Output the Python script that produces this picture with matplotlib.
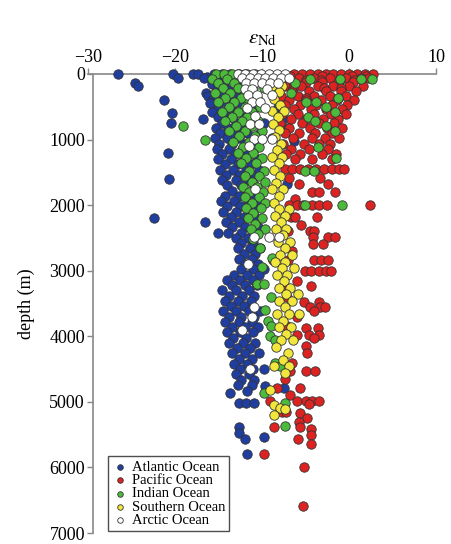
import matplotlib
matplotlib.use("Agg")
import matplotlib.pyplot as plt

plt.rcParams['font.family'] = 'Liberation Serif'
plt.rcParams['mathtext.fontset'] = 'stix'

# eps_Nd values, grouped by depth (m)
atlantic = {
    0: [-26.6, -20.2, -17.9, -17.3, -15.5, -14.6, -13.7, -12.8, -11.9],
    40: [-16.3, -12.2, -10.6],
    60: [-19.7, -16.7], 80: [-15.0, -14.1, -13.2], 130: [-24.6],
    160: [-15.8, -14.4, -13.0, -11.6], 190: [-24.3], 250: [-15.2, -13.9, -12.5],
    290: [-16.4], 330: [-16.2, -14.7, -13.3, -11.2], 390: [-21.3, -15.8],
    420: [-15.5, -14.1, -12.7], 440: [-16.0], 500: [-15.0, -13.6, -10.8, -8.2],
    580: [-15.7, -14.3, -12.9, -11.5], 590: [-20.3], 660: [-15.1, -13.5, -12.1],
    680: [-16.8, -7.6], 740: [-14.6, -13.0, -11.0, -9.8], 745: [-20.5],
    820: [-15.3, -13.9, -12.4, -7.0], 900: [-14.8, -13.3, -11.7, -10.2],
    980: [-15.4, -14.0, -12.6, -8.9], 1025: [-6.3],
    1060: [-14.9, -13.4, -11.9, -10.5], 1140: [-15.2, -13.8, -12.3, -10.9],
    1200: [-20.8], 1220: [-14.6, -13.1, -11.6], 1300: [-15.0, -13.6, -12.1, -10.6],
    1380: [-14.3, -12.8, -11.3], 1460: [-14.8, -13.3, -11.8, -10.4],
    1540: [-14.1, -12.6, -11.1], 1600: [-20.7], 1620: [-14.6, -13.0, -11.5],
    1680: [-7.1], 1700: [-14.0, -12.4, -10.9], 1780: [-13.5, -12.0],
    1860: [-14.2, -12.7, -11.2], 1940: [-14.7, -13.2, -11.6, -10.2],
    2020: [-14.0, -12.5, -11.0], 2100: [-14.5, -13.0, -11.4],
    2180: [-13.6, -12.1, -10.8], 2200: [-22.4], 2250: [-16.5],
    2260: [-14.1, -12.6], 2340: [-13.4, -11.9, -10.5], 2420: [-13.9, -12.4],
    2430: [-15.0], 2500: [-13.0, -11.6], 2580: [-12.4, -11.0],
    2660: [-12.8, -11.4, -10.2], 2740: [-12.1, -10.8], 2820: [-12.6, -11.2],
    2900: [-11.9, -10.5], 2980: [-12.4, -11.0, -9.8], 3060: [-13.2, -11.7, -10.3],
    3140: [-14.0, -12.5, -11.0], 3220: [-13.5, -12.0, -10.6],
    3300: [-14.6, -13.0, -11.5], 3380: [-13.8, -12.3, -10.9],
    3460: [-14.3, -12.8, -11.3], 3540: [-13.6, -12.1],
    3620: [-14.5, -13.0, -11.5, -10.2], 3700: [-13.8, -12.4, -10.9],
    3780: [-14.2, -12.7, -11.2], 3860: [-13.5, -12.0, -10.5],
    3940: [-14.0, -12.5, -11.0], 4020: [-13.3, -11.8], 4100: [-13.8, -12.2, -10.8],
    4180: [-12.9, -11.4], 4260: [-13.4, -11.9, -10.4], 4340: [-12.7, -11.2],
    4420: [-13.2, -11.7], 4500: [-12.5, -11.0, -9.8], 4580: [-13.0, -11.5],
    4660: [-12.4, -10.9], 4740: [-12.8, -11.2], 4760: [-9.6], 4790: [-7.5],
    4830: [-11.7], 4860: [-13.7], 5020: [-12.7, -11.8, -10.9],
    5390: [-12.6], 5480: [-12.6], 5530: [-9.8], 5560: [-11.9], 5790: [-11.7],
}

pacific = {
    0: [-6.3, -5.4, -4.5, -3.6, -2.7, -1.8, -0.9, 0.0, 0.9, 1.8, 2.8],
    30: [-6.8, -3.1, 0.4, 1.9],
    60: [-5.8, -4.0, -2.2, -0.4, 1.4, 2.3], 90: [-7.0, -4.9, -3.2, -1.0, 0.6],
    120: [-6.8, -4.9, -3.1, -1.3, 0.5],
    190: [-7.3, -5.5, -3.6, -1.8, 0.0, 1.6], 220: [-6.4, -2.9, -0.9],
    260: [-6.5, -4.6, -2.7, -0.9, 0.8],
    330: [-7.8, -5.9, -4.0, -2.2, -0.3], 360: [-5.0, -1.3],
    400: [-6.9, -5.0, -3.2, -1.4, 0.6],
    470: [-7.4, -5.6, -3.8, -2.0, -0.2], 540: [-6.3, -4.4, -2.6, -0.8],
    610: [-7.7, -5.9, -4.0, -2.1, -0.3], 680: [-6.7, -4.9, -3.0, -1.3],
    750: [-7.9, -5.4, -3.5, -1.7], 820: [-6.9, -4.5, -2.5, -0.8],
    900: [-7.4, -5.8, -3.9, -2.0], 980: [-6.4, -4.3, -2.8, -1.2],
    1060: [-7.6, -5.2, -3.4, -2.2], 1140: [-6.7, -4.6, -2.4],
    1220: [-7.2, -5.6, -3.1, -1.5], 1300: [-6.2, -4.2, -2.0],
    1450: [-7.4, -6.5, -5.6, -4.7, -3.8, -2.9, -2.0, -1.1, -0.6],
    1580: [-6.9, -3.3], 1680: [-5.8, -2.4], 1800: [-4.2, -3.5, -1.6],
    1900: [-6.2], 2000: [-6.9, -6.0, -5.3, -4.3, -3.4, -2.5, 2.4],
    2180: [-6.7, -6.2, -3.7], 2300: [-5.5], 2400: [-7.0, -4.5, -4.0],
    2490: [-4.1, -2.4, -1.6], 2590: [-4.1, -3.0], 2700: [-6.5],
    2830: [-8.7, -7.0, -4.0, -3.2, -2.4], 3000: [-5.1, -4.4, -3.5, -2.7, -2.1],
    3150: [-6.0], 3230: [-4.4], 3270: [-7.1], 3400: [-7.1], 3470: [-5.2, -3.5],
    3550: [-4.5, -3.3, -2.8], 3620: [-4.0], 3700: [-6.0], 3850: [-7.1],
    3880: [-4.9, -3.6], 3980: [-6.0, -4.6, -3.4], 4030: [-4.0], 4150: [-5.0],
    4260: [-4.8], 4400: [-6.5], 4530: [-6.8, -5.0, -3.9], 4650: [-7.3],
    4790: [-5.6, -8.3], 4900: [-6.8], 4990: [-9.1, -6.0, -5.0, -4.2, -3.5],
    5040: [-4.6], 5150: [-7.7, -7.2], 5170: [-5.6], 5240: [-4.8], 5300: [-5.8],
    5380: [-8.6, -5.6], 5420: [-4.4], 5500: [-4.4], 5570: [-5.9], 5650: [-4.4],
    5790: [-9.8], 5990: [-5.2], 6590: [-5.3],
}

indian = {
    0: [-15.3, -14.4, -13.5, -12.6, -11.7, -10.8],
    70: [-15.8, -14.0, -12.2, -10.4, -4.5, -1.0, 1.4, 2.6],
    140: [-15.0, -13.2, -11.4, -6.2], 210: [-14.5, -12.8, -11.0, -9.8],
    290: [-15.4, -13.7, -11.9, -6.7], 360: [-14.2, -12.4, -10.6, -1.3],
    430: [-15.0, -13.2, -11.5, -5.0, -3.8], 500: [-13.8, -12.0, -10.2, -2.7],
    580: [-14.6, -12.8, -11.1, -1.6], 650: [-13.4, -11.7, -4.7],
    720: [-14.2, -12.3, -10.5, -3.9], 800: [-19.1, -13.0, -11.2, -2.7],
    870: [-13.8, -12.0, -10.0, -1.6], 950: [-12.7, -10.8],
    1000: [-16.5], 1030: [-13.3, -11.5], 1120: [-12.2, -10.4, -3.6],
    1200: [-12.8, -11.0], 1280: [-11.8, -10.0, -1.5], 1360: [-12.4, -10.7],
    1480: [-11.5, -9.8, -5.1, -4.0], 1560: [-12.0, -10.3], 1640: [-11.2, -9.6],
    1720: [-12.2, -10.6], 1800: [-11.5, -9.9], 1880: [-12.0, -10.4],
    1960: [-11.2, -9.7], 2000: [-5.1, -0.8], 2040: [-11.8, -10.1],
    2120: [-11.0], 2200: [-11.6, -10.0], 2280: [-10.8], 2360: [-11.3, -9.6],
    2440: [-10.5], 2520: [-11.0], 2650: [-10.2], 2800: [-8.8], 2950: [-10.0],
    3200: [-10.6, -9.8], 3400: [-9.0], 3600: [-9.6], 3760: [-9.3],
    3850: [-9.0], 4000: [-9.1], 4060: [-8.5], 4410: [-8.5], 4460: [-7.9],
    4860: [-9.8], 5020: [-7.3], 5370: [-7.3],
}

southern = {
    100: [-8.3], 180: [-8.8, -7.7], 280: [-8.1], 380: [-8.6], 470: [-7.9],
    560: [-8.9, -7.5], 660: [-8.2], 760: [-8.7], 860: [-8.0], 960: [-8.5],
    1060: [-7.8], 1160: [-8.3], 1260: [-8.8, -7.7], 1360: [-8.1], 1460: [-8.6],
    1560: [-7.9], 1660: [-8.4], 1760: [-7.6, -8.9], 1860: [-8.1], 1960: [-8.6],
    2060: [-8.0, -6.9], 2160: [-8.5, -7.3], 2260: [-7.8], 2360: [-8.4, -7.2],
    2460: [-7.6], 2560: [-8.2, -6.8], 2660: [-7.4], 2760: [-7.9, -6.6],
    2860: [-8.5, -7.3], 2960: [-7.7, -6.3], 3060: [-8.3, -7.1], 3160: [-7.5],
    3260: [-8.1, -6.8], 3360: [-7.2, -5.9], 3460: [-8.0, -6.6], 3560: [-7.4],
    3660: [-8.3, -6.9, -5.8], 3760: [-7.6], 3860: [-8.1, -6.7], 3960: [-7.2],
    4060: [-7.8, -6.4], 4160: [-8.4], 4260: [-7.0], 4360: [-7.6],
    4460: [-8.6, -6.9], 4560: [-7.4], 4820: [-9.1], 5050: [-8.6],
    5090: [-7.9], 5110: [-7.3], 5200: [-8.6],
}

arctic = {
    0: [-12.8, -11.9, -11.0, -10.1, -9.2, -8.3, -7.4],
    60: [-12.3, -11.4, -10.5, -9.6, -8.7, -7.8, -6.9],
    140: [-11.8, -10.9, -10.0, -9.1, -8.2], 230: [-12.0, -11.1, -9.4],
    320: [-11.6, -10.6, -8.9], 420: [-11.2, -10.2], 520: [-11.7, -9.7],
    640: [-10.8], 760: [-11.4, -10.4], 990: [-10.9, -10.0, -8.8],
    1100: [-11.5], 1750: [-10.8], 2480: [-10.9, -9.2, -8.0], 2900: [-11.6],
    3550: [-10.9], 3700: [-11.2], 3900: [-12.3], 4500: [-11.4],
}

series = [
    ('Atlantic Ocean', atlantic, '#1f3ea0'),
    ('Pacific Ocean', pacific, '#dd2222'),
    ('Indian Ocean', indian, '#4cbb3c'),
    ('Southern Ocean', southern, '#f0e63c'),
    ('Arctic Ocean', arctic, '#ffffff'),
]

fig = plt.figure(figsize=(4.51, 5.44), dpi=100)
ax = fig.add_axes([88 / 451, 11 / 544, 348 / 451, 459 / 544])

for i, (name, rows, color) in enumerate(series):
    xs = []
    ds = []
    for d, vals in rows.items():
        for v in vals:
            xs.append(v)
            ds.append(d)
    ax.scatter(xs, ds, s=46, c=color, edgecolors='#333333', linewidths=0.6,
               clip_on=False, zorder=3 + i)
    # small marker only for the legend
    ax.scatter([], [], s=16, c=color, edgecolors='#333333', linewidths=0.6,
               label=name)

ax.set_xlim(-30, 10)
ax.set_ylim(7000, 0)
ax.xaxis.tick_top()
ax.xaxis.set_label_position('top')
ax.set_xticks([-30, -20, -10, 0, 10])
ax.set_xticklabels(['\u221230', '\u221220', '\u221210', '0', '10'])
ax.set_yticks(range(0, 7001, 1000))
ax.set_xlabel(r'$\varepsilon_{\rm Nd}$', fontsize=15, labelpad=4)
ax.set_ylabel('depth (m)', fontsize=13, labelpad=10)
ax.tick_params(axis='both', labelsize=13, color='#888888', length=4, width=1, pad=2)

for side in ('bottom', 'right'):
    ax.spines[side].set_visible(False)
for side in ('top', 'left'):
    ax.spines[side].set_color('#888888')
    ax.spines[side].set_linewidth(1.2)
# the depth axis sits a little inside the -30 end of the top axis
ax.spines['left'].set_position(('data', -29.4))

leg = ax.legend(loc='lower left', bbox_to_anchor=(0.058, 0.004), borderaxespad=0,
                fontsize=10.5, frameon=True, fancybox=False, labelspacing=0.0,
                handletextpad=0.3, handlelength=1.0, borderpad=0.3)
leg.get_frame().set_edgecolor('#222222')
leg.get_frame().set_linewidth(1.0)
leg.set_zorder(20)

fig.savefig('out.png', dpi=100)
